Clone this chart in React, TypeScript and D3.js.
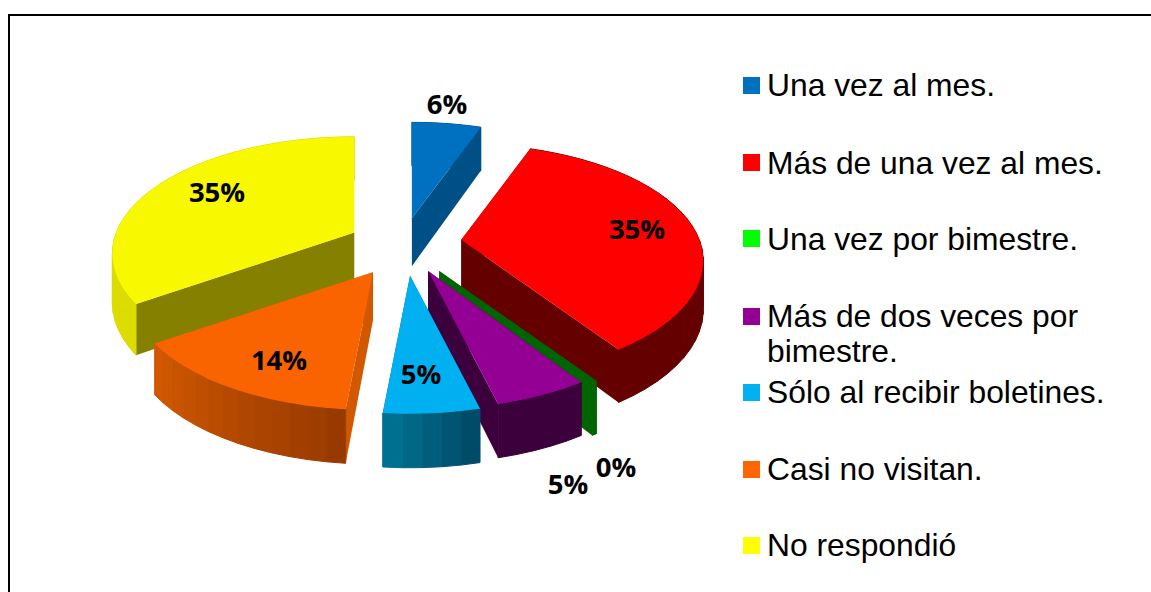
import React from "react";
import * as d3 from "d3";

const categories = [
  "Una vez al mes.",
  "Más de una vez al mes.",
  "Una vez por bimestre.",
  "Más de dos veces por bimestre.",
  "Sólo al recibir boletines.",
  "Casi no visitan.",
  "No respondió",
];
const values = [5.5, 35.0, 0.3, 5.3, 5.4, 13.9, 34.6];

// styling
const legendColors = ["#0070c0", "#ff0000", "#00ff00", "#930093", "#00b0f0", "#ff6600", "#ffff00"];
const topColors = ["#0070c0", "#ff0000", "#006400", "#930093", "#00b0f0", "#fa6400", "#f8f800"];
const startWall = ["#005088", "#640000", "#006400", "#3c003c", "#005f80", "#d25800", "#868000"];
const endWall = ["#005088", "#640000", "#006400", "#3c003c", "#005f80", "#d25800", "#dcdc00"];
const outerFrom = ["#005088", "#640000", "#006400", "#3c003c", "#004c68", "#983a00", "#dcdc00"];
const outerTo = ["#005088", "#640000", "#006400", "#3c003c", "#007090", "#d25800", "#dcdc00"];

// layout
const center: [number, number] = [407, 245];
const explode = [60, 55, 56, 51, 64, 68, 62];
const nudge: [number, number][] = [[-5, 0], [0, -2], [0, 3], [0, 3], [-2, -1], [2, -2], [1, 1]];
const paintOrder = [0, 6, 1, 2, 3, 5, 4];
const labelPos: [number, number][] = [[447, 103], [637, 228], [616, 466], [568, 483], [421, 373], [279, 359], [217, 191]];
const legendRows: { idx: number; y: number; lines: [string, number][] }[] = [
  { idx: 0, y: 77, lines: [[categories[0], 96]] },
  { idx: 1, y: 154, lines: [[categories[1], 174]] },
  { idx: 2, y: 230, lines: [[categories[2], 250]] },
  { idx: 3, y: 308, lines: [["Más de dos veces por", 327], ["bimestre.", 362]] },
  { idx: 4, y: 384, lines: [[categories[4], 403]] },
  { idx: 5, y: 461, lines: [[categories[5], 480]] },
  { idx: 6, y: 537, lines: [[categories[6], 556]] },
];

const R = 238;
const K = 0.475;
const Q = 0.18;
const DEPTH = 48;

// perspective-tilted disc: theta clockwise from the far side
function project(ox: number, oy: number, r: number, theta: number, h = 0): [number, number] {
  const c = Math.cos(theta);
  const s = 1 / (1 + (Q * r * c) / R);
  return [ox + r * Math.sin(theta) * s, oy - r * K * c * s + h * Math.pow(s, 0.6)];
}

const line = d3.line<[number, number]>();

export default function App() {
  const pie = d3.pie<number>().sort(null).startAngle(0).endAngle(2 * Math.PI);
  const arcs = pie(values);

  const slices = paintOrder.map((i) => {
    const a = arcs[i];
    const mid = (a.startAngle + a.endAngle) / 2;
    const base = project(center[0], center[1], explode[i], mid);
    const ox = base[0] + nudge[i][0];
    const oy = base[1] + nudge[i][1];
    const steps = Math.max(2, Math.ceil((a.endAngle - a.startAngle) / (Math.PI / 45)));
    const angles = d3.range(steps + 1).map((t) => a.startAngle + ((a.endAngle - a.startAngle) * t) / steps);
    const rim = angles.map((t) => project(ox, oy, R, t));
    const top = line([[ox, oy], ...rim])! + "Z";
    const wallAt = (t: number) =>
      line([[ox, oy], project(ox, oy, R, t), project(ox, oy, R, t, DEPTH), [ox, oy + DEPTH]])! + "Z";

    const bandColor = d3.interpolateRgb(outerFrom[i], outerTo[i]);
    const bands = d3.range(steps).map((k) => {
      const t0 = angles[k];
      const t1 = angles[k + 1];
      return {
        d:
          line([
            project(ox, oy, R, t0),
            project(ox, oy, R, t1),
            project(ox, oy, R, t1, DEPTH),
            project(ox, oy, R, t0, DEPTH),
          ])! + "Z",
        c: bandColor(k / Math.max(1, steps - 1)),
      };
    });
    return { i, top, start: wallAt(a.startAngle), end: wallAt(a.endAngle), bands };
  });

  return (
    <svg
      width={1151}
      height={592}
      viewBox="0 0 1151 592"
      style={{ position: "absolute", left: 0, top: 0, display: "block" }}
    >
      <rect x={0} y={0} width={1151} height={592} fill="#fff" />
      <path d="M9,592V15H1151" fill="none" stroke="#000" strokeWidth={2} />
      {slices.map((s) => (
        <g key={s.i}>
          <path d={s.end} fill={endWall[s.i]} />
          <path d={s.start} fill={startWall[s.i]} />
          {s.bands.map((b, k) => (
            <path key={k} d={b.d} fill={b.c} stroke={b.c} strokeWidth={1} />
          ))}
          <path d={s.top} fill={topColors[s.i]} />
        </g>
      ))}
      {values.map((v, i) => (
        <text
          key={i}
          x={labelPos[i][0]}
          y={labelPos[i][1]}
          textAnchor="middle"
          dominantBaseline="central"
          fontFamily="'Open Sans', sans-serif"
          fontWeight={700}
          fontSize={27.5}
          fill="#000"
        >
          {`${d3.format(".0f")(v)}%`}
        </text>
      ))}
      {legendRows.map((row) => (
        <g key={row.idx}>
          <rect x={743} y={row.y} width={17} height={17} fill={legendColors[row.idx]} />
          {row.lines.map(([t, y]) => (
            <text key={t} x={767} y={y} fontFamily="'Liberation Sans', Arial, sans-serif" fontSize={31.8} fill="#000">
              {t}
            </text>
          ))}
        </g>
      ))}
    </svg>
  );
}
